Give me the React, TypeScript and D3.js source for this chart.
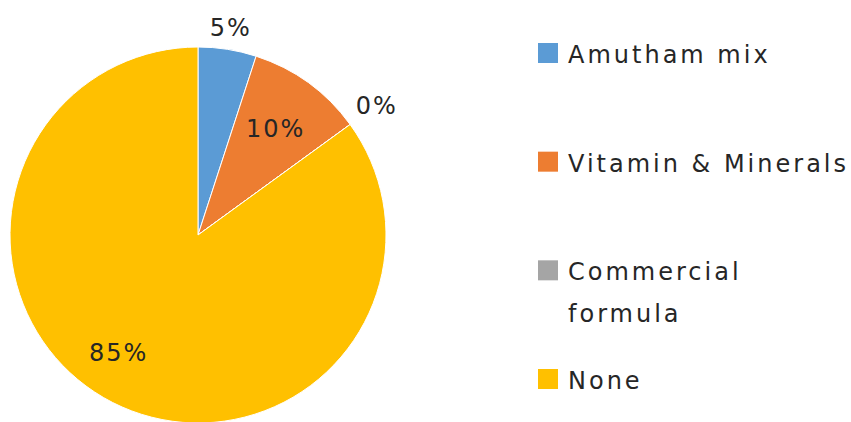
import React, { useRef, useEffect } from "react";
import * as d3 from "d3";

const categories = ["Amutham mix", "Vitamin & Minerals", "Commercial formula", "None"];
const values = [5, 10, 0, 85];
const labels = ["5%", "10%", "0%", "85%"];
const colors = ["#5B9BD5", "#ED7D31", "#A5A5A5", "#FFC000"];

// where each data label sits: distance from centre and a small angle nudge (degrees)
const labelRadius = [210, 132, 221, 142];
const labelNudge = [0, 0, 0, 7];

const width = 851;
const height = 422;

const App = () => {
    const plot = useRef(null);

    useEffect(() => {
        const svg = d3.select(plot.current);
        svg.selectAll("*").remove();

        const cx = 198;
        const cy = 235;
        const radius = 188;

        const pie = d3.pie().sort(null).value(d => d.value);
        const arcs = pie(categories.map((c, i) => ({ name: c, value: values[i] })));
        const arc = d3.arc().innerRadius(0).outerRadius(radius);

        const g = svg.append("g").attr("transform", `translate(${cx}, ${cy})`);

        g.selectAll("path")
            .data(arcs)
            .join("path")
            .attr("d", arc)
            .attr("fill", (d, i) => colors[i])
            .attr("stroke", "#fff")
            .attr("stroke-width", 1);

        // data labels
        g.selectAll("text")
            .data(arcs)
            .join("text")
            .attr("x", (d, i) => {
                const a = (d.startAngle + d.endAngle) / 2 + labelNudge[i] * Math.PI / 180;
                return Math.sin(a) * labelRadius[i];
            })
            .attr("y", (d, i) => {
                const a = (d.startAngle + d.endAngle) / 2 + labelNudge[i] * Math.PI / 180;
                return -Math.cos(a) * labelRadius[i];
            })
            .attr("dy", "0.35em")
            .attr("text-anchor", "middle")
            .attr("font-family", "DejaVu Sans")
            .attr("font-size", 24)
            .attr("letter-spacing", 2)
            .attr("fill", "#262626")
            .text((d, i) => labels[i]);

        // legend
        const rowY = d3.scalePoint().domain(categories).range([63, 389]);
        const legend = svg.append("g");
        const items = legend.selectAll("g")
            .data(categories)
            .join("g")
            .attr("transform", d => `translate(538, ${rowY(d)})`);

        items.append("rect")
            .attr("x", 0)
            .attr("y", -20)
            .attr("width", 20)
            .attr("height", 20)
            .attr("fill", (d, i) => colors[i]);

        items.append("text")
            .attr("x", 30)
            .attr("font-family", "DejaVu Sans")
            .attr("font-size", 24)
            .attr("letter-spacing", 3)
            .attr("fill", "#262626")
            .selectAll("tspan")
            .data(d => d === "Commercial formula" ? ["Commercial", "formula"] : [d])
            .join("tspan")
            .attr("x", 30)
            .attr("dy", (d, i) => i === 0 ? 0 : 42)
            .text(d => d);
    }, []);

    return (
        <svg ref={plot} width={width} height={height}
            style={{ position: "absolute", left: 0, top: 0, background: "#fff" }} />
    );
};

export default App;
